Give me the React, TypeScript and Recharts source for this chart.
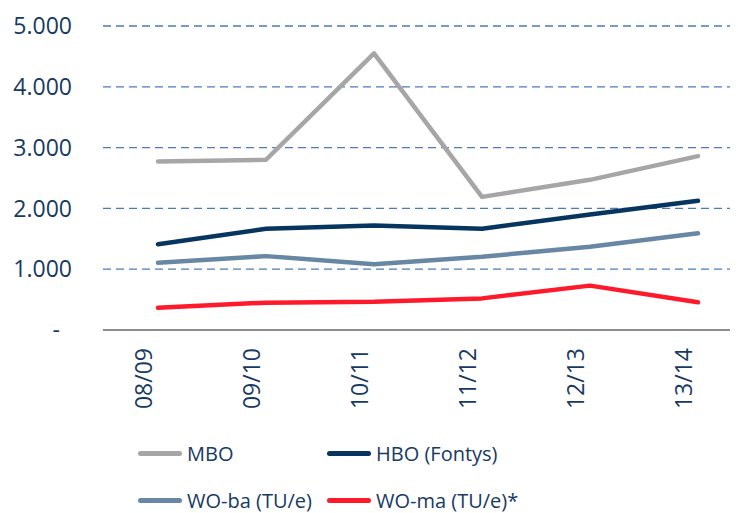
import { CartesianGrid, Legend, Line, LineChart, XAxis, YAxis } from "recharts";

const years = ["08/09", "09/10", "10/11", "11/12", "12/13", "13/14"];
const mbo = [2770, 2800, 4550, 2190, 2470, 2860];
const hbo = [1410, 1665, 1720, 1665, 1900, 2125];
const woBa = [1105, 1215, 1080, 1205, 1370, 1590];
const woMa = [365, 450, 465, 520, 730, 455];
const yTicks = [0, 1000, 2000, 3000, 4000, 5000];

const series = [
  { key: "mbo", name: "MBO", color: "#a6a6a6" },
  { key: "hbo", name: "HBO (Fontys)", color: "#06365f" },
  { key: "woBa", name: "WO-ba (TU/e)", color: "#6887a5" },
  { key: "woMa", name: "WO-ma (TU/e)*", color: "#ff1a2b" },
];

const data = years.map((y, i) => ({
  year: y,
  mbo: mbo[i],
  hbo: hbo[i],
  woBa: woBa[i],
  woMa: woMa[i],
}));

const TEXT = "#173a63";
const FONT = "'Open Sans', sans-serif";

function fmt(v: number) {
  return v.toLocaleString("de-DE");
}

function YTick({ x, y, payload }: any) {
  const zero = payload.value === 0;
  return (
    <text
      x={zero ? x - 12 : x}
      y={y}
      dy="0.36em"
      textAnchor="end"
      fill={TEXT}
      fontSize={23}
      fontFamily={FONT}
    >
      {zero ? "-" : fmt(payload.value)}
    </text>
  );
}

function XTick({ x, y, payload }: any) {
  return (
    <g transform={`translate(${x},${y})`}>
      <text
        transform="rotate(-90)"
        x={-18}
        y={-6}
        textAnchor="end"
        fill={TEXT}
        fontSize={23}
        fontFamily={FONT}
      >
        {payload.value}
      </text>
    </g>
  );
}

function LegendBox() {
  const cells = [
    { s: series[0], left: 130, top: 30 },
    { s: series[1], left: 319, top: 30 },
    { s: series[2], left: 130, top: 77 },
    { s: series[3], left: 319, top: 77 },
  ];
  return (
    <div style={{ position: "relative", width: 730, height: 90 }}>
      {cells.map(({ s, left, top }) => (
        <div
          key={s.key}
          style={{
            position: "absolute",
            left,
            top: top - 15,
            height: 30,
            display: "flex",
            alignItems: "center",
            fontFamily: FONT,
            fontSize: 20,
            color: TEXT,
            whiteSpace: "nowrap",
          }}
        >
          <span
            style={{
              display: "inline-block",
              width: 44,
              height: 5,
              borderRadius: 3,
              background: s.color,
              marginRight: 5,
            }}
          />
          {s.name}
        </div>
      ))}
    </div>
  );
}

export default function App() {
  return (
    <div style={{ width: 730, height: 505 }}>
      <LineChart
        width={730}
        height={505}
        data={data}
        margin={{ top: 18, right: 0, bottom: 0, left: 0 }}
      >
        <CartesianGrid
          vertical={false}
          stroke="#4a7bbd"
          strokeDasharray="8 5"
          strokeWidth={1.3}
        />
        <XAxis
          dataKey="year"
          scale="point"
          padding={{ left: 55, right: 40 }}
          height={93}
          tickLine={false}
          tickSize={0}
          tickMargin={0}
          axisLine={{ stroke: "#8c8c8c", strokeWidth: 2 }}
          tick={<XTick />}
          interval={0}
        />
        <YAxis
          domain={[0, 5000]}
          ticks={yTicks}
          width={95}
          axisLine={false}
          tickLine={false}
          tickSize={0}
          tickMargin={31}
          tick={<YTick />}
        />
        <Legend verticalAlign="bottom" content={() => <LegendBox />} />
        {series.map((s) => (
          <Line
            key={s.key}
            dataKey={s.key}
            name={s.name}
            stroke={s.color}
            strokeWidth={4.5}
            strokeLinecap="round"
            strokeLinejoin="round"
            dot={false}
            activeDot={false}
            isAnimationActive={false}
          />
        ))}
      </LineChart>
    </div>
  );
}
